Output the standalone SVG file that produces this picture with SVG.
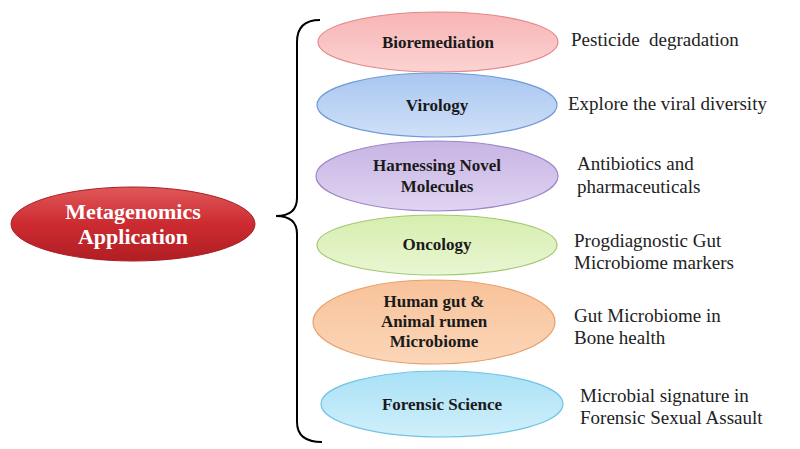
<svg xmlns="http://www.w3.org/2000/svg" width="800" height="449" viewBox="0 0 800 449">
<defs>
<linearGradient id="gRed" x1="0" y1="0" x2="0" y2="1"><stop offset="0" stop-color="#e0585a"/><stop offset="0.5" stop-color="#cc2b30"/><stop offset="1" stop-color="#b01e24"/></linearGradient>
<linearGradient id="gPink" x1="0" y1="0" x2="0" y2="1"><stop offset="0" stop-color="#f8b4b4"/><stop offset="1" stop-color="#fbd3d2"/></linearGradient>
<linearGradient id="gBlue" x1="0" y1="0" x2="0" y2="1"><stop offset="0" stop-color="#a9c6f0"/><stop offset="1" stop-color="#cfe0f8"/></linearGradient>
<linearGradient id="gPurple" x1="0" y1="0" x2="0" y2="1"><stop offset="0" stop-color="#c7b4e4"/><stop offset="1" stop-color="#e0d4f1"/></linearGradient>
<linearGradient id="gGreen" x1="0" y1="0" x2="0" y2="1"><stop offset="0" stop-color="#d6eeae"/><stop offset="1" stop-color="#e9f6d3"/></linearGradient>
<linearGradient id="gOrange" x1="0" y1="0" x2="0" y2="1"><stop offset="0" stop-color="#f8c29a"/><stop offset="1" stop-color="#fbd6b8"/></linearGradient>
<linearGradient id="gCyan" x1="0" y1="0" x2="0" y2="1"><stop offset="0" stop-color="#a9e1f6"/><stop offset="1" stop-color="#d0effb"/></linearGradient>
</defs>
<style>
.lbl{font-family:"Liberation Serif","Times New Roman",serif;font-weight:bold;font-size:17px;fill:#1a1a1a;text-anchor:middle}
.main{font-family:"Liberation Serif","Times New Roman",serif;font-weight:bold;font-size:22px;fill:#ffffff;text-anchor:middle}
.desc{font-family:"Liberation Serif","Times New Roman",serif;font-size:19px;fill:#222222;white-space:pre}
.brace{fill:none;stroke:#000000;stroke-width:2}
</style>
<rect width="800" height="449" fill="#ffffff"/>
<g id="connectors">
<path class="brace" d="M320,20 Q297,20 297,42 L297,198 Q297,216 276,216 Q297,216 297,234 L297,422 Q297,442 322,442"/>
</g>
<g id="metagenomics">
<ellipse cx="133" cy="224" rx="122" ry="37" fill="url(#gRed)" stroke="#a81e22" stroke-width="1"/>
<text class="main" x="133" y="219">Metagenomics</text>
<text class="main" x="133" y="244">Application</text>
</g>
<g id="bioremediation">
<ellipse cx="438" cy="42" rx="120" ry="30" fill="url(#gPink)" stroke="#e38787" stroke-width="1.2"/>
<text class="lbl" x="438" y="48">Bioremediation</text>
</g>
<g id="virology">
<ellipse cx="437" cy="105" rx="120" ry="32" fill="url(#gBlue)" stroke="#6f9bd8" stroke-width="1.2"/>
<text class="lbl" x="437" y="111">Virology</text>
</g>
<g id="harnessing">
<ellipse cx="437" cy="176" rx="121" ry="35" fill="url(#gPurple)" stroke="#9c86c6" stroke-width="1.2"/>
<text class="lbl" x="437" y="171">Harnessing Novel</text>
<text class="lbl" x="437" y="192">Molecules</text>
</g>
<g id="oncology">
<ellipse cx="437" cy="245" rx="120" ry="30" fill="url(#gGreen)" stroke="#a3c872" stroke-width="1.2"/>
<text class="lbl" x="437" y="250">Oncology</text>
</g>
<g id="humangut">
<ellipse cx="434" cy="322" rx="121" ry="42" fill="url(#gOrange)" stroke="#e8a06a" stroke-width="1.2"/>
<text class="lbl" x="434" y="307">Human gut &amp;</text>
<text class="lbl" x="434" y="327">Animal rumen</text>
<text class="lbl" x="434" y="347">Microbiome</text>
</g>
<g id="forensic">
<ellipse cx="442" cy="404" rx="121" ry="33" fill="url(#gCyan)" stroke="#6fc4e3" stroke-width="1.2"/>
<text class="lbl" x="442" y="410">Forensic Science</text>
</g>
<g id="descriptions">
<text class="desc" x="571" y="46" xml:space="preserve">Pesticide  degradation</text>
<text class="desc" x="568" y="110">Explore the viral diversity</text>
<text class="desc" x="577" y="170">Antibiotics and</text>
<text class="desc" x="577" y="193">pharmaceuticals</text>
<text class="desc" x="574" y="247">Progdiagnostic Gut</text>
<text class="desc" x="574" y="269">Microbiome markers</text>
<text class="desc" x="574" y="322">Gut Microbiome in</text>
<text class="desc" x="574" y="344">Bone health</text>
<text class="desc" x="580" y="402">Microbial signature in</text>
<text class="desc" x="580" y="424">Forensic Sexual Assault</text>
</g>
</svg>
